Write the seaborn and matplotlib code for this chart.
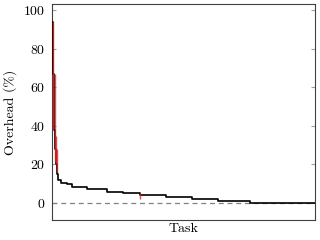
import numpy as np
import pandas as pd
import matplotlib
matplotlib.use("Agg")
import matplotlib.pyplot as plt
import seaborn as sns

# overhead per task, sorted descending, as (value, number of tasks) runs
run_values = [94, 67, 38, 28, 20, 15, 12, 10.5, 9.7, 8.1, 7.1, 5.9, 5.0, 4.1, 2.9, 2.1, 0.9, 0.1]
run_counts = [1, 1, 1, 1, 1, 1, 3, 6, 5, 15, 20, 16, 17, 26, 26, 26, 32, 66]

# red error bars on a few tasks
err_tasks = [0, 2, 3, 4, 87]
err_low = [38, 22, 20, 16, 2.0]
err_high = [94, 67, 35, 28, 5.0]

overhead = np.repeat(run_values, run_counts)
df = pd.DataFrame({"task": np.arange(len(overhead)), "overhead": overhead})

sns.set_style("white")
plt.rcParams["font.family"] = ["cmr10", "DejaVu Serif"]
plt.rcParams["mathtext.fontset"] = "cm"
plt.rcParams["axes.formatter.use_mathtext"] = True
plt.rcParams["text.color"] = "black"
plt.rcParams["axes.labelcolor"] = "black"
plt.rcParams["ytick.labelcolor"] = "black"

fig = plt.figure(figsize=(3.2, 2.4), dpi=100)
ax = fig.add_axes([0.1625, 0.083, 0.822, 0.9])

ax.axhline(0, color="gray", lw=0.9, ls=(0, (4, 3)), zorder=1)
sns.lineplot(data=df, x="task", y="overhead", drawstyle="steps-post",
             color="black", lw=1.2, ax=ax, zorder=3)
for t, lo, hi in zip(err_tasks, err_low, err_high):
    ax.vlines(t + 1, lo, hi, color="#e02020", lw=1.0, alpha=0.8, zorder=4)

ax.set_xlim(0, 263)
ax.set_ylim(-8.8, 103.1)
ax.set_yticks([0, 20, 40, 60, 80, 100])
ax.set_xticks([])
ax.set_xlabel("Task", fontsize=10, labelpad=2)
ax.set_ylabel("Overhead (%)", fontsize=10, labelpad=4)
ax.tick_params(axis="y", direction="in", length=3, color="#a0a0a0",
               labelsize=10, right=True, left=True, pad=5)
for s in ax.spines.values():
    s.set_color("#404040")
    s.set_linewidth(0.8)

fig.savefig("out.png", dpi=100)
